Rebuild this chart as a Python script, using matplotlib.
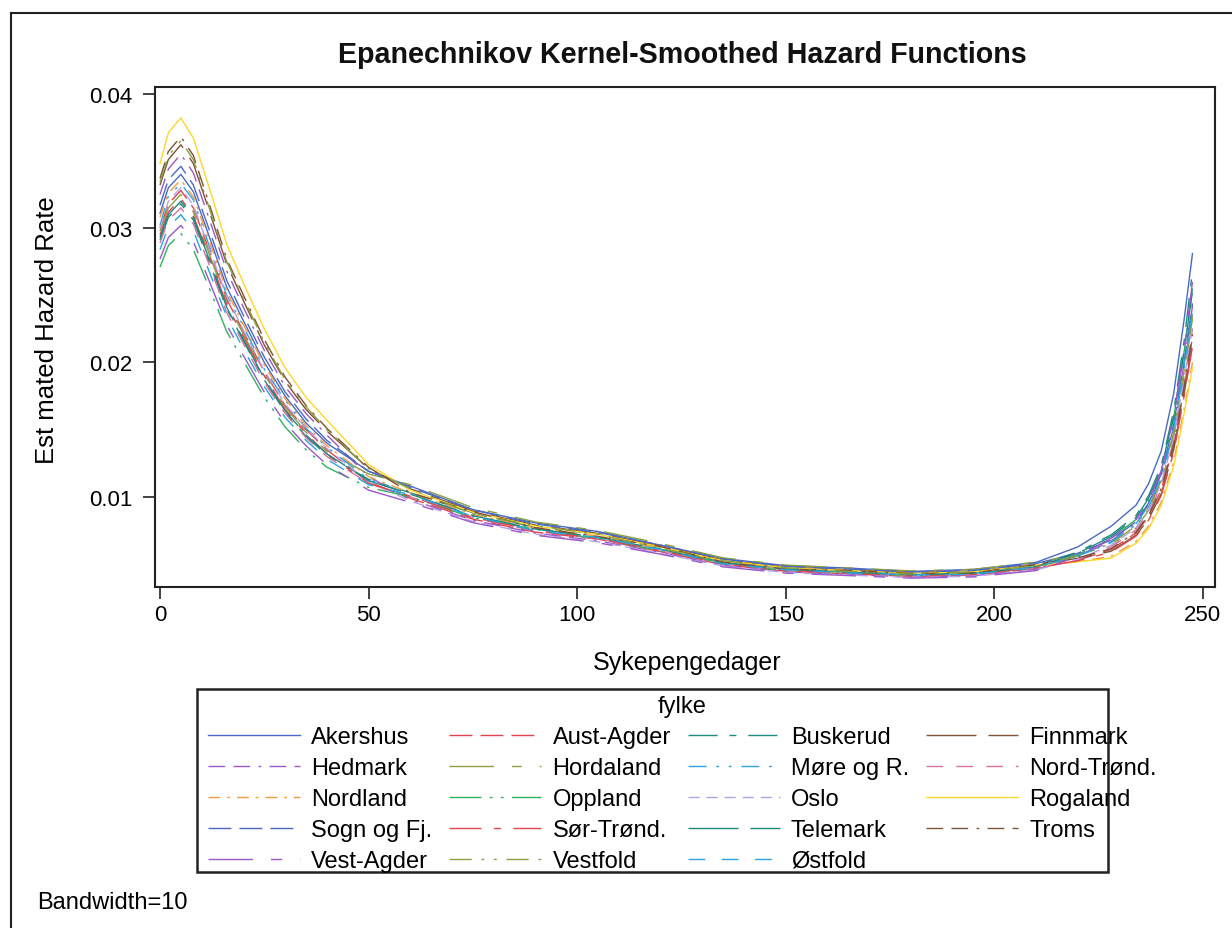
import numpy as np
import matplotlib
matplotlib.use('Agg')
import matplotlib.pyplot as plt
from matplotlib.lines import Line2D
from matplotlib.patches import Rectangle

plt.rcParams['font.family'] = ['Liberation Sans', 'DejaVu Sans']

# sykepengedager (x) og estimert hasard (y, i 1/1000)
days = [0, 2, 5, 8, 12, 16, 20, 25, 30, 35, 40, 50, 60, 75, 90, 105, 120, 135,
        150, 165, 180, 195, 210, 220, 228, 234, 237, 240, 243, 245.5, 247.5]

akershus = [31.1, 33.0, 34.0, 32.7, 29.2, 25.6, 23.1, 20.0, 17.5, 15.5, 14.0, 11.9, 10.8, 9.05, 8.06, 7.42,
            6.40, 5.41, 4.88, 4.70, 4.45, 4.60, 5.12, 6.27, 7.81, 9.39, 11.0, 13.4, 17.7, 23.2, 28.1]
aust_agder = [30.0, 31.8, 32.8, 31.5, 28.2, 24.7, 22.3, 19.3, 16.8, 15.0, 13.5, 11.1, 9.89, 8.34, 7.37, 6.85,
              5.92, 4.95, 4.46, 4.27, 4.07, 4.17, 4.66, 5.28, 6.08, 7.32, 8.55, 10.5, 13.8, 18.1, 21.9]
buskerud = [29.1, 30.8, 31.8, 30.6, 27.3, 24.0, 21.6, 18.7, 16.3, 14.5, 13.1, 11.3, 10.3, 8.82, 7.70, 7.25,
            6.25, 5.12, 4.66, 4.52, 4.31, 4.36, 4.93, 5.89, 7.17, 8.62, 10.1, 12.3, 16.4, 21.6, 26.8]
finnmark = [33.2, 35.1, 36.2, 34.8, 31.1, 27.3, 24.6, 21.3, 18.6, 16.5, 14.9, 12.1, 10.6, 8.94, 7.90, 7.28,
            6.34, 5.30, 4.78, 4.58, 4.37, 4.47, 4.99, 5.42, 5.95, 7.16, 8.37, 10.2, 13.5, 17.7, 21.4]
hedmark = [32.5, 34.4, 35.5, 34.1, 30.5, 26.8, 24.1, 20.9, 18.2, 16.2, 14.6, 11.5, 9.79, 8.26, 7.30, 6.72,
           5.86, 4.90, 4.42, 4.22, 4.03, 4.13, 4.61, 5.53, 6.72, 8.09, 9.45, 11.6, 15.2, 20.0, 24.2]
hordaland = [29.8, 31.5, 32.5, 31.2, 27.9, 24.5, 22.1, 19.1, 16.7, 14.8, 13.4, 11.7, 10.9, 9.20, 8.13, 7.49,
             6.53, 5.46, 4.92, 4.71, 4.49, 4.60, 5.14, 5.69, 6.40, 7.70, 9.00, 11.0, 14.5, 19.0, 23.3]
more_og_r = [30.2, 32.4, 33.3, 32.1, 28.5, 25.0, 22.7, 19.5, 17.2, 15.1, 13.7, 11.3, 10.2, 8.55, 7.65, 6.95,
             6.12, 5.08, 4.62, 4.38, 4.22, 4.28, 4.83, 5.58, 6.59, 7.93, 9.27, 11.3, 14.9, 19.6, 23.7]
nord_trond = [28.9, 30.6, 31.5, 30.3, 27.1, 23.7, 21.4, 18.5, 16.2, 14.4, 13.0, 11.0, 10.0, 8.43, 7.45, 6.86,
              5.98, 5.00, 4.51, 4.31, 4.12, 4.21, 4.70, 5.39, 6.27, 7.55, 8.82, 10.8, 14.2, 18.6, 22.5]
nordland = [30.8, 32.6, 33.6, 32.3, 28.9, 25.3, 22.8, 19.8, 17.3, 15.3, 13.8, 11.5, 10.3, 8.69, 7.68, 7.07,
            6.16, 5.15, 4.65, 4.44, 4.24, 4.34, 4.85, 5.17, 5.57, 6.70, 7.83, 9.57, 12.6, 16.5, 20.0]
oppland = [27.1, 28.7, 29.6, 28.4, 25.4, 22.3, 20.1, 17.4, 15.2, 13.5, 12.2, 10.7, 10.0, 8.45, 7.58, 6.88,
           5.98, 5.08, 4.50, 4.40, 4.12, 4.30, 4.70, 5.69, 6.91, 8.32, 9.72, 11.9, 15.9, 20.8, 25.5]
oslo = [30.0, 32.0, 33.0, 31.7, 28.3, 24.9, 22.4, 19.4, 16.9, 15.1, 13.6, 11.1, 9.69, 8.17, 7.22, 6.65,
        5.80, 4.85, 4.37, 4.18, 3.99, 4.09, 4.56, 5.36, 6.40, 7.70, 9.00, 11.0, 14.4, 18.8, 22.6]
rogaland = [34.8, 37.1, 38.2, 36.7, 32.8, 28.8, 25.9, 22.5, 19.6, 17.4, 15.7, 12.4, 10.5, 8.86, 7.83, 7.21,
            6.28, 5.25, 4.74, 4.53, 4.33, 4.43, 4.94, 5.17, 5.44, 6.55, 7.65, 9.35, 12.3, 16.2, 19.6]
sogn_og_fj = [31.7, 33.6, 34.6, 33.2, 29.7, 26.1, 23.5, 20.4, 17.8, 15.8, 14.2, 11.9, 10.7, 9.03, 7.98, 7.35,
              6.41, 5.36, 4.83, 4.62, 4.41, 4.52, 5.04, 5.80, 6.78, 8.16, 9.54, 11.7, 15.4, 20.1, 24.4]
sor_trond = [29.5, 31.2, 32.2, 30.9, 27.7, 24.3, 21.9, 19.0, 16.5, 14.7, 13.2, 11.0, 10.05, 8.47, 7.49, 6.90,
             6.01, 5.02, 4.53, 4.33, 4.14, 4.24, 4.73, 5.24, 5.89, 7.08, 8.28, 10.1, 13.3, 17.5, 21.2]
telemark = [29.3, 31.0, 32.0, 30.8, 27.5, 24.1, 21.7, 18.8, 16.4, 14.6, 13.2, 11.2, 10.2, 8.60, 7.60, 7.00,
            6.10, 5.10, 4.60, 4.40, 4.20, 4.30, 4.80, 5.80, 7.04, 8.47, 9.90, 12.1, 16.0, 20.9, 25.3]
troms = [33.7, 35.7, 36.8, 35.4, 31.6, 27.7, 25.0, 21.7, 18.9, 16.8, 15.1, 12.2, 10.3, 8.90, 7.70, 7.05,
         6.30, 5.15, 4.62, 4.52, 4.30, 4.35, 4.95, 5.45, 6.14, 7.39, 8.64, 10.6, 13.9, 18.2, 22.1]
vest_agder = [27.7, 29.3, 30.2, 29.0, 25.9, 22.8, 20.5, 17.8, 15.5, 13.8, 12.4, 10.5, 9.59, 8.08, 7.14, 6.58,
              5.73, 4.79, 4.32, 4.14, 3.95, 4.04, 4.51, 5.56, 6.91, 8.32, 9.72, 11.9, 16.0, 21.0, 26.0]
vestfold = [33.4, 35.4, 36.5, 35.1, 31.3, 27.5, 24.8, 21.5, 18.7, 16.7, 15.0, 12.1, 10.6, 8.70, 7.85, 7.20,
            6.15, 5.25, 4.72, 4.45, 4.25, 4.42, 4.86, 5.61, 6.53, 7.85, 9.18, 11.2, 14.8, 19.4, 23.5]
ostfold = [28.4, 30.1, 31.0, 29.8, 26.6, 23.4, 21.0, 18.2, 15.9, 14.2, 12.8, 10.9, 10.15, 8.55, 7.48, 6.98,
           6.08, 5.00, 4.58, 4.33, 4.19, 4.22, 4.78, 5.58, 6.66, 8.01, 9.36, 11.4, 15.1, 19.8, 23.9]

fylker = ['Akershus', 'Aust-Agder', 'Buskerud', 'Finnmark', 'Hedmark', 'Hordaland', 'Møre og R.',
          'Nord-Trønd.', 'Nordland', 'Oppland', 'Oslo', 'Rogaland', 'Sogn og Fj.', 'Sør-Trønd.',
          'Telemark', 'Troms', 'Vest-Agder', 'Vestfold', 'Østfold']
serier = [akershus, aust_agder, buskerud, finnmark, hedmark, hordaland, more_og_r, nord_trond, nordland,
          oppland, oslo, rogaland, sogn_og_fj, sor_trond, telemark, troms, vest_agder, vestfold, ostfold]

# farger og linjetyper (SAS-stil)
blue, red, teal, brown = '#4A69C4', '#E2444F', '#1E8A80', '#7E5232'
purple, olive, lblue = '#9A58C8', '#8AA043', '#2AA4E0'
farger = [blue, red, teal, brown, purple, olive, lblue, '#D5739C', '#F49A3F', '#2DB35F',
          '#B8A0E6', '#FFD62A', blue, red, teal, brown, purple, olive, lblue]
stiler = ['-', (0, (16.5, 5.8)), (0, (21, 8.5, 5, 8.5)), (0, (36, 8.6)), (0, (12, 6, 12, 6, 2, 6)),
          (0, (32, 13, 7, 13)), (0, (13, 7, 2, 7, 2, 7)), (0, (12, 9.5)), (0, (8.5, 5, 2, 5)),
          (0, (23, 6, 2, 6, 2, 6)), (0, (8, 5)), '-', (0, (16.5, 5.8)), (0, (23, 9, 5, 9)),
          (0, (36, 8.6)), (0, (12, 6, 12, 6, 2, 6)), (0, (32, 13, 8, 13)), (0, (16, 7, 2, 7, 2, 7)),
          (0, (12, 12))]

W, H = 1232, 929
fig = plt.figure(figsize=(W / 100, H / 100), dpi=100)
ax = fig.add_axes([155 / W, 1 - 588 / H, 1060 / W, 500 / H])

linjer = []
for navn, v, c, ls in zip(fylker, serier, farger, stiler):
    ln, = ax.plot(days, np.array(v) / 1000, color=c, linestyle=ls, lw=1.0, label=navn)
    linjer.append(ln)

ax.set_xlim(-1.2, 252.9)
ax.set_ylim(0.00329, 0.0405)
ax.set_xticks([0, 50, 100, 150, 200, 250])
ax.set_yticks([0.01, 0.02, 0.03, 0.04])
ax.set_yticklabels(['0.01', '0.02', '0.03', '0.04'])
ax.tick_params(direction='out', length=8.5, width=1.2, labelsize=16, color='#222222')
ax.tick_params(axis='x', pad=4)
ax.tick_params(axis='y', pad=8)
for s in ax.spines.values():
    s.set_linewidth(1.5)
    s.set_color('#222222')

fig.text(682 / W, 1 - 55 / H, 'Epanechnikov Kernel-Smoothed Hazard Functions',
         ha='center', va='center', fontsize=20.6, fontweight='bold', color='#111111')
fig.text(687 / W, 1 - 663 / H, 'Sykepengedager', ha='center', va='center', fontsize=18)
fig.text(47 / W, 1 - 330 / H, 'Est mated Hazard Rate', ha='center', va='center',
         rotation=90, fontsize=18.5)
fig.text(37 / W, 1 - 903 / H, 'Bandwidth=10', ha='left', va='center', fontsize=17)

# legenden fylles radvis som i originalen; rammen tegnes for seg
rekkef = [0, 4, 8, 12, 16, 1, 5, 9, 13, 17, 2, 6, 10, 14, 18, 3, 7, 11, 15]
leg = fig.legend([linjer[i] for i in rekkef], [fylker[i] for i in rekkef], ncol=4,
                 loc='upper left', bbox_to_anchor=(208 / W, 1 - 696 / H),
                 bbox_transform=fig.transFigure, title='fylke', fontsize=17, title_fontsize=17,
                 handlelength=3.9, handletextpad=0.47, columnspacing=0.72, labelspacing=0.38,
                 borderpad=0, borderaxespad=0, frameon=False)
fig.add_artist(Rectangle((197 / W, 1 - 873 / H), 911 / W, 183 / H, transform=fig.transFigure,
                         fill=False, edgecolor='#222222', lw=1.8))

# ytre ramme
fig.add_artist(Line2D([11 / W, 11 / W], [0, 1 - 14 / H], transform=fig.transFigure,
                      color='#222222', lw=1.5))
fig.add_artist(Line2D([11 / W, 1], [1 - 14 / H, 1 - 14 / H], transform=fig.transFigure,
                      color='#222222', lw=1.5))

fig.savefig('out.png', dpi=100)
